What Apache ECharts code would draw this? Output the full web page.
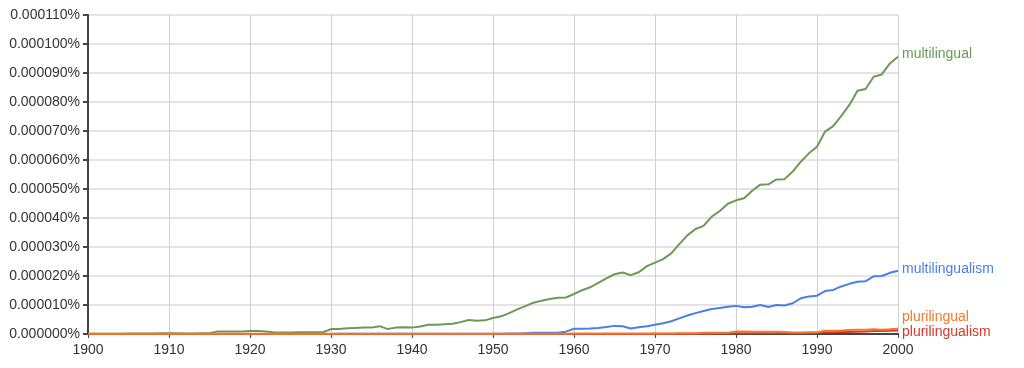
<!DOCTYPE html>
<html>
<head>
<meta charset="utf-8">
<script src="https://cdn.jsdelivr.net/npm/echarts@6/dist/echarts.min.js"></script>
<style>html,body{margin:0;padding:0;background:#fff}#c{width:1024px;height:368px}</style>
</head>
<body>
<div id="c"></div>
<script>
// values in units of 0.000001 %
const startYear = 1900;
const multilingual = [
  0.1,0.1,0.1,0.1,0.1,0.2,0.2,0.2,0.2,0.3,
  0.3,0.3,0.2,0.2,0.3,0.3,0.9,0.9,0.9,0.9,
  1.0,1.0,0.9,0.5,0.5,0.5,0.6,0.6,0.6,0.6,
  1.7,1.7,2.0,2.1,2.2,2.2,2.7,1.7,2.2,2.3,
  2.2,2.6,3.2,3.2,3.4,3.5,4.1,4.8,4.6,4.7,
  5.5,6.1,7.2,8.5,9.6,10.8,11.5,12.1,12.5,12.6,
  13.8,15.1,16.1,17.6,19.2,20.6,21.2,20.3,21.3,23.4,
  24.6,25.8,27.8,31.0,34.0,36.2,37.3,40.5,42.4,44.9,
  46.1,46.8,49.4,51.5,51.6,53.3,53.4,56.0,59.4,62.3,
  64.6,69.8,71.7,75.2,79.0,83.9,84.5,88.7,89.5,93.3,
  95.6
];
const multilingualism = [
  0,0,0,0,0,0,0,0,0,0,
  0,0,0,0,0,0,0,0,0,0,
  0,0,0,0,0,0,0,0,0,0,
  0,0.1,0.1,0.1,0.1,0.1,0.1,0.1,0.1,0.1,
  0.1,0.1,0.1,0.1,0.1,0.1,0.1,0.1,0.1,0.1,
  0.1,0.1,0.2,0.2,0.3,0.4,0.4,0.4,0.4,0.8,
  1.8,1.8,1.9,2.1,2.4,2.8,2.7,1.9,2.3,2.7,
  3.2,3.7,4.4,5.4,6.4,7.2,7.9,8.6,9.0,9.4,
  9.7,9.2,9.4,10.0,9.3,10.0,9.8,10.6,12.3,12.9,
  13.2,14.8,15.2,16.4,17.3,18.0,18.2,19.9,20.0,21.1,
  21.8
];
const plurilingual = [
  0.1,0.1,0.1,0.1,0.1,0.1,0.1,0.1,0.1,0.1,
  0.1,0.1,0.1,0.1,0.1,0.1,0.1,0.1,0.1,0.1,
  0.1,0.1,0.1,0.1,0.1,0.1,0.1,0.1,0.1,0.1,
  0.1,0.1,0.1,0.1,0.1,0.1,0.1,0.1,0.1,0.1,
  0.1,0.1,0.1,0.1,0.1,0.1,0.1,0.1,0.1,0.1,
  0.1,0.1,0.1,0.1,0.1,0.1,0.1,0.1,0.1,0.1,
  0.2,0.2,0.2,0.2,0.2,0.2,0.2,0.2,0.2,0.2,
  0.2,0.2,0.2,0.3,0.3,0.3,0.4,0.4,0.4,0.4,
  0.9,0.9,0.8,0.8,0.8,0.8,0.7,0.5,0.5,0.6,
  0.6,1.1,1.1,1.2,1.4,1.5,1.5,1.6,1.5,1.6,
  1.8
];
const plurilingualism = [
  0,0,0,0,0,0,0,0,0,0,
  0,0,0,0,0,0,0,0,0,0,
  0,0,0,0,0,0,0,0,0,0,
  0,0,0,0,0,0,0,0,0,0,
  0,0,0,0,0,0,0,0,0,0,
  0,0,0,0,0,0,0,0,0,0,
  0,0,0,0,0,0,0,0,0,0,
  0.1,0.1,0.1,0.1,0.1,0.1,0.1,0.1,0.2,0.2,
  0.3,0.3,0.3,0.3,0.3,0.3,0.3,0.3,0.3,0.3,
  0.4,0.6,0.6,0.7,0.7,0.8,0.9,1.0,1.0,1.1,
  1.2
];

function pairs(arr){ return arr.map((v,i)=>[startYear+i, v]); }
const font = 'Liberation Sans, Arial, Helvetica, sans-serif';

function mk(name, data, color, labelOffset){
  return {
    name, type:'line', data:pairs(data), showSymbol:false, symbol:'none',
    lineStyle:{color, width:2}, itemStyle:{color},
    emphasis:{disabled:true},
    endLabel:{show:true, formatter:'{a}', color, fontSize:14, fontFamily:font, distance:4, offset:labelOffset||[0,0]}
  };
}

const chart = echarts.init(document.getElementById('c'), null, {renderer:'canvas'});
chart.setOption({
  animation:false,
  grid:{left:88, right:126, top:15, bottom:34},
  xAxis:{
    type:'value', min:1900, max:2000, interval:10,
    axisLine:{show:true, onZero:false, lineStyle:{color:'#444', width:2}},
    axisTick:{show:true, length:4, lineStyle:{color:'#444'}},
    axisLabel:{color:'#333', fontSize:14, fontFamily:font, margin:9, formatter:v=>String(v)},
    splitLine:{show:true, lineStyle:{color:'#d0d0d0', width:1}}
  },
  yAxis:{
    type:'value', min:0, max:110, interval:10,
    axisLine:{show:true, lineStyle:{color:'#444', width:2}},
    axisTick:{show:true, length:5, lineStyle:{color:'#444', width:2}},
    axisLabel:{color:'#333', fontSize:14, fontFamily:font, margin:8, formatter:v=>(v*1e-6).toFixed(6)+'%'},
    splitLine:{show:true, lineStyle:{color:'#e4e4e4', width:2}}
  },
  series:[
    mk('multilingual', multilingual, '#6b9a55', [0,-3]),
    mk('multilingualism', multilingualism, '#4a7fe6', [0,-2]),
    mk('plurilingualism', plurilingualism, '#d8392b', [0,2]),
    mk('plurilingual', plurilingual, '#f07a2e', [0,-12])
  ]
});
</script>
</body>
</html>
